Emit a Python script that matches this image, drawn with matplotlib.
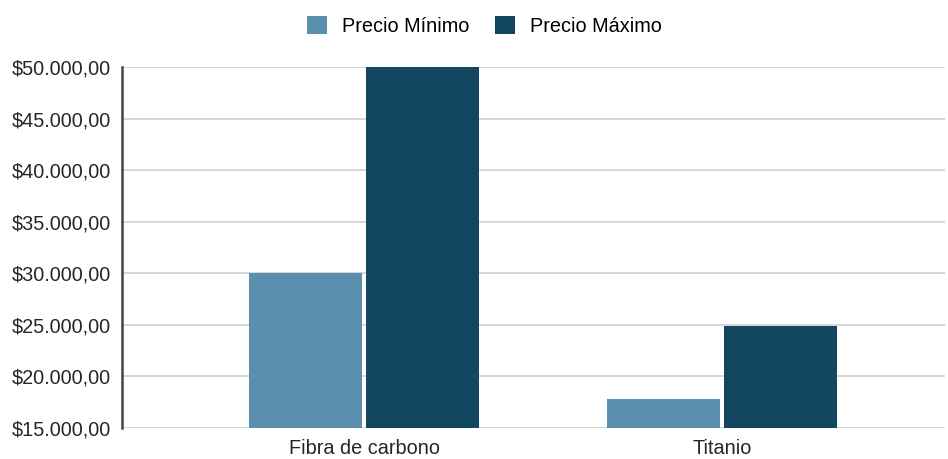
import matplotlib.pyplot as plt
import numpy as np

plt.rcParams['font.family'] = ['Liberation Sans', 'DejaVu Sans']

categorias = ["Fibra de carbono", "Titanio"]
precio_min = [30000, 17800]
precio_max = [50000, 24900]
series = ["Precio Mínimo", "Precio Máximo"]
colores = ["#5a8fad", "#13465f"]

fig = plt.figure(figsize=(9.48, 4.59), dpi=100)
ax = fig.add_axes([0.1287, 0.0675, 0.8683, 0.7865])

x = np.arange(len(categorias))
w = 0.316
gap = 0.006
ax.bar(x - w / 2 - gap, precio_min, w, color=colores[0], label=series[0], zorder=3)
ax.bar(x + w / 2 + gap, precio_max, w, color=colores[1], label=series[1], zorder=3)

ax.set_ylim(15000, 50000)
ax.set_xlim(-0.676, 1.623)
yt = np.arange(15000, 50001, 5000)
ax.set_yticks(yt)
ax.set_yticklabels(["$" + f"{v:,.2f}".replace(",", "X").replace(".", ",").replace("X", ".") for v in yt])
ax.set_xticks(x)
ax.set_xticklabels(categorias)
ax.tick_params(axis='both', length=0, labelsize=14.3, colors="#262626", pad=8)
ax.tick_params(axis='y', pad=8)

ax.grid(axis='y', color="#d0d0d0", linewidth=1.2, zorder=0)
for s in ["top", "right", "bottom"]:
    ax.spines[s].set_visible(False)
ax.spines["left"].set_color("#444444")
ax.spines["left"].set_linewidth(1.8)

fig.legend(loc="upper center", bbox_to_anchor=(0.511, 1.003), ncol=2, frameon=False,
           fontsize=14.3, handlelength=1.0, handleheight=1.0, columnspacing=1.3,
           handletextpad=0.75)

fig.savefig("out.png", dpi=100)
